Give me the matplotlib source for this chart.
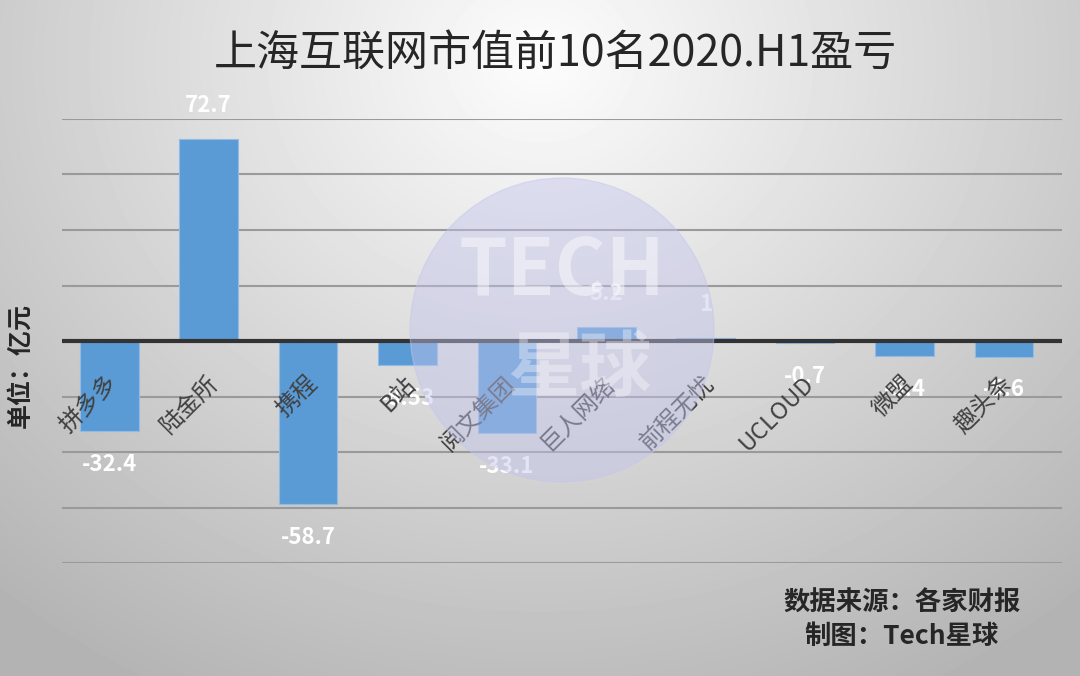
import numpy as np
import matplotlib
matplotlib.use("Agg")
import matplotlib.pyplot as plt
from matplotlib.patches import Circle

plt.rcParams['font.family'] = ['Noto Sans CJK SC', 'DejaVu Sans']

# data
companies = ["拼多多", "陆金所", "携程", "B站", "阅文集团", "巨人网络", "前程无忧", "UCLOUD", "微盟", "趣头条"]
profits = [-32.4, 72.7, -58.7, -8.53, -33.1, 5.2, 1, -0.7, -5.4, -5.6]
value_labels = ["-32.4", "72.7", "-58.7", "-8.53", "-33.1", "5.2", "1", "-0.7", "-5.4", "-5.6"]
y_ticks = [-80, -60, -40, -20, 0, 20, 40, 60, 80]

fig = plt.figure(figsize=(10.8, 6.76), dpi=100)

# gradient background
bg = fig.add_axes([0, 0, 1, 1], zorder=-10)
yy, xx = np.mgrid[0:676, 0:1080]
d = np.sqrt(((xx - 540) / 800.0) ** 2 + ((yy - 60) / 700.0) ** 2)
shade = np.clip(0.99 - 0.28 * d, 0.70, 1.0)
bg.imshow(shade, cmap="gray", vmin=0, vmax=1, aspect="auto", extent=[0, 1, 0, 1])
bg.axis("off")

ax = fig.add_axes([0.057, 0.167, 0.926, 0.657])
ax.patch.set_alpha(0)
x = np.arange(len(companies))
ax.bar(x, profits, width=0.59, color="#5b9bd5", edgecolor="#8fbbe6", linewidth=0.8, zorder=3)

ax.set_ylim(-80, 80)
ax.set_xlim(-0.48, len(companies) - 0.42)
ax.set_yticks(y_ticks)
ax.yaxis.grid(True, color="#9a9a9a", linewidth=1.5)
ax.set_axisbelow(True)
ax.tick_params(left=False, bottom=False, labelleft=False, labelbottom=False)
for s in ax.spines.values():
    s.set_visible(False)
ax.axhline(0, color="#333333", linewidth=3, zorder=4)

# value labels
for i, v in enumerate(profits):
    if v >= 0:
        ax.text(i, v + 12, value_labels[i], ha="center", va="center", color="white",
                fontsize=16, fontweight="bold", zorder=6)
    else:
        ax.text(i, v - 12, value_labels[i], ha="center", va="center", color="white",
                fontsize=16, fontweight="bold", zorder=6)

# category labels
for i, name in enumerate(companies):
    ax.text(i + 0.05, -14, name, rotation=45, rotation_mode="anchor", ha="right", va="center",
            fontsize=17, color="#404040", zorder=7)

# watermark
circ = Circle((562, 676 - 330), 152, transform=None, color="#c4c4ee", alpha=0.45, zorder=5)
fig.patches.append(circ)
fig.text(562 / 1080, 1 - 272 / 676, "TECH", ha="center", va="center", fontsize=56,
         fontweight="black", color="white", alpha=0.45, zorder=6)
fig.text(580 / 1080, 1 - 370 / 676, "星球", ha="center", va="center", fontsize=52,
         fontweight="bold", color="white", alpha=0.35, zorder=6)

fig.text(555 / 1080, 1 - 55 / 676, "上海互联网市值前10名2020.H1盈亏", ha="center", va="center",
         fontsize=31, color="#262626")
fig.text(20 / 1080, 1 - 365 / 676, "单位：亿元", rotation=90, ha="center", va="center",
         fontsize=18, fontweight="bold", color="#262626")
fig.text(902 / 1080, 1 - 603 / 676, "数据来源：各家财报", ha="center", va="center",
         fontsize=19, fontweight="bold", color="#262626")
fig.text(902 / 1080, 1 - 636 / 676, "制图：Tech星球", ha="center", va="center",
         fontsize=19, fontweight="bold", color="#262626")

plt.savefig("out.png", dpi=100)
